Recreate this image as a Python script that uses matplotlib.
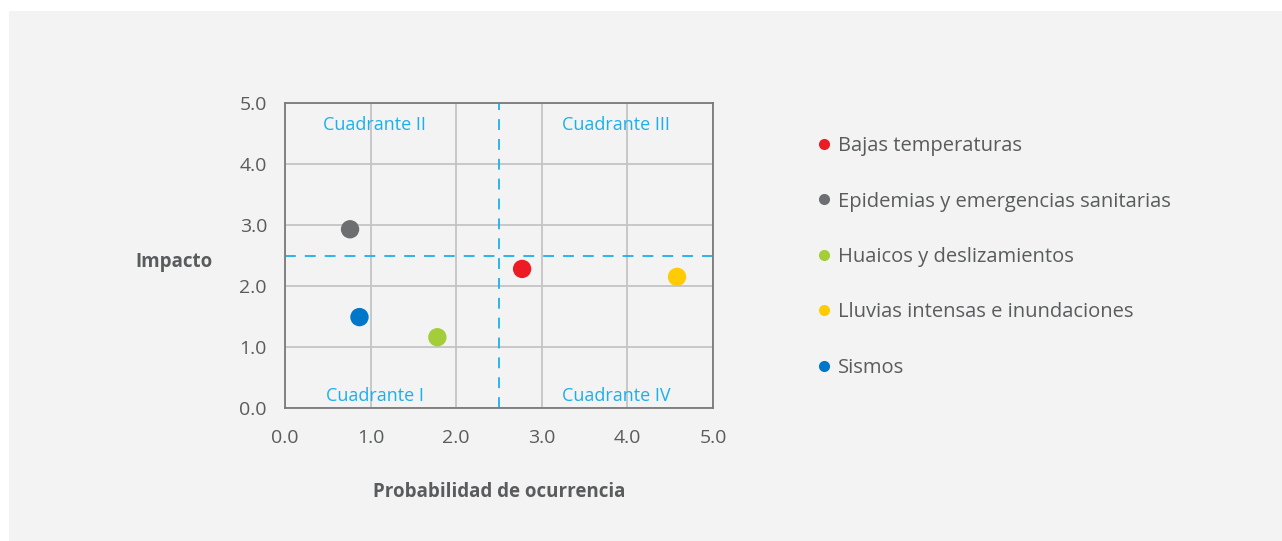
import matplotlib.pyplot as plt
from matplotlib.patches import Rectangle
from matplotlib.lines import Line2D

plt.rcParams['font.family'] = ['Open Sans', 'DejaVu Sans']

# Datos
riesgos = ['Bajas temperaturas', 'Epidemias y emergencias sanitarias',
           'Huaicos y deslizamientos', 'Lluvias intensas e inundaciones', 'Sismos']
probabilidad = [2.77, 0.76, 1.78, 4.58, 0.87]
impacto = [2.28, 2.93, 1.16, 2.15, 1.49]
colores = ['#ed1c24', '#6d6e71', '#a3cd39', '#ffcb05', '#0077c8']
ticks = [0, 1, 2, 3, 4, 5]
umbral = 2.5
cuadrantes = [('Cuadrante II', 1.05, 4.64), ('Cuadrante III', 3.87, 4.64),
              ('Cuadrante I', 1.05, 0.2), ('Cuadrante IV', 3.87, 0.2)]

fondo = '#f2f3f2'
gris_txt = '#5a5b5d'
azul = '#1cb0eb'

W, H = 1282, 541
fig = plt.figure(figsize=(W / 100, H / 100), dpi=100, facecolor='white')
fig.patches.append(Rectangle((9 / W, 0), 1 - 9 / W, 1 - 11 / H,
                             transform=fig.transFigure, facecolor=fondo,
                             edgecolor='none', zorder=-10))

ax = fig.add_axes([285 / W, 1 - 408 / H, 428 / W, 305 / H])
ax.set_facecolor(fondo)
ax.set_xlim(0, 5)
ax.set_ylim(0, 5)
ax.set_xticks(ticks)
ax.set_yticks(ticks)
ax.set_xticklabels([f'{t:.1f}' for t in ticks])
ax.set_yticklabels([f'{t:.1f}' for t in ticks])
ax.tick_params(length=0, labelsize=14, colors=gris_txt)
ax.tick_params(axis='x', pad=15)
ax.tick_params(axis='y', pad=13)
ax.grid(True, color='#c4c4c4', linewidth=1.3)
ax.set_axisbelow(True)
for s in ax.spines.values():
    s.set_color('#7a7a7a')
    s.set_linewidth(1.3)

ax.axvline(umbral, color=azul, linestyle=(0, (6, 5)), linewidth=1.3)
ax.axhline(umbral, color=azul, linestyle=(0, (6, 5)), linewidth=1.3)

for txt, x, y in cuadrantes:
    ax.text(x, y, txt, color=azul, fontsize=13, ha='center', va='center')

ax.scatter(probabilidad, impacto, s=175, c=colores, zorder=3, linewidths=0)

ax.set_xlabel('Probabilidad de ocurrencia', fontsize=13.5, fontweight='bold',
              color=gris_txt, labelpad=25)
ax.set_ylabel('Impacto', fontsize=13.5, fontweight='bold', color=gris_txt,
              rotation=0, ha='right', va='center')
ax.yaxis.set_label_coords(-0.168, 0.48)

handles = [Line2D([], [], marker='o', linestyle='none', markersize=8,
                  markerfacecolor=c, markeredgewidth=0) for c in colores]
leg = fig.legend(handles, riesgos, loc='upper left',
                 bbox_to_anchor=(806 / W, 1 - 128 / H), frameon=False,
                 fontsize=14.5, labelspacing=1.76, handletextpad=0.2,
                 handlelength=1.0, borderaxespad=0)
for t in leg.get_texts():
    t.set_color(gris_txt)

fig.savefig('out.png', dpi=100, facecolor='white')
